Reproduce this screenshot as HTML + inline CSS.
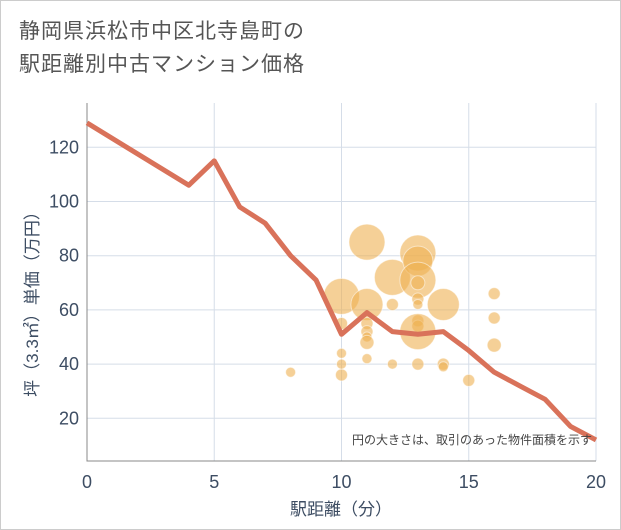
<!DOCTYPE html>
<html><head><meta charset="utf-8"><style>
body{margin:0;background:#fff;font-family:"Liberation Sans","Noto Sans CJK JP",sans-serif;}
#wrap{position:relative;width:619px;height:528px;border:1px solid #ccc;background:#fff;}
.title{position:absolute;left:18px;top:14px;font-size:21px;line-height:33px;color:#555;letter-spacing:1px;}
svg text{font-family:"Liberation Sans","Noto Sans CJK JP",sans-serif;}
</style></head><body>
<div id="wrap">
<div class="title">静岡県浜松市中区北寺島町の<br>駅距離別中古マンション価格</div>
<svg id="c" width="621" height="530" style="position:absolute;left:-1px;top:-1px"></svg>
</div>
<script>
const xTicks=[0,5,10,15,20];
const yTicks=[20,40,60,80,100,120];
const lineX=[0,4,5,6,7,8,9,10,11,12,13,14,15,16,17,18,19,20];
const lineY=[129,106,115,98,92,80,71,51,59,52,51,52,45,37,32,27,17,12];
const bubX=[8,10,10,10,10,10,11,11,11,11,11,11,11,12,12,12,13,13,13,13,13,13,13,13,13,13,14,14,14,15,16,16,16];
const bubY=[37,36,40,44,65,55,85,62,55,52,50,48,42,72,62,40,81,78,71,70,64,62,56,54,52,40,62,40,39,34,66,57,47];
const bubR=[5,6,5,5,18,6,18,16,6,6,5,7,5,18,6,5,18,15,18,7,6,5,6,6,18,6,16,6,5,6,6,6,7];
const svg=document.getElementById('c');const NS='http://www.w3.org/2000/svg';
const L=87,R=596,T=103,B=461;
const xs=v=>L+(v-0)/20*(R-L);
const ys=v=>472.5-v*2.71;
function mk(t,a,p){const e=document.createElementNS(NS,t);for(const k in a)e.setAttribute(k,a[k]);(p||svg).appendChild(e);return e;}
xTicks.forEach(t=>{const g=mk('line',{x1:xs(t),x2:xs(t),y1:T,y2:B,stroke:'#d5dde8','stroke-width':1});


const tx=mk('text',{x:xs(t),y:488,'text-anchor':'middle','font-size':18,fill:'#3d4d63'});tx.textContent=t;

});
yTicks.forEach(t=>{const g=mk('line',{x1:L,x2:R,y1:ys(t),y2:ys(t),stroke:'#d5dde8','stroke-width':1});


const tx=mk('text',{x:79,y:ys(t)+6,'text-anchor':'end','font-size':18,fill:'#3d4d63'});tx.textContent=t;

});
const ax=mk('path',{d:`M${L},${T}V${B}H${R}`,fill:'none',stroke:'#888','stroke-width':1});


bubX.forEach((x,i)=>{const c=mk('circle',{cx:xs(x),cy:ys(bubY[i]),r:bubR[i],fill:'rgba(238,176,82,0.6)',stroke:'rgba(255,255,255,0.5)','stroke-width':1});

});
const p=mk('polyline',{points:lineX.map((x,i)=>xs(x)+','+ys(lineY[i])).join(' '),fill:'none',stroke:'#d9725a','stroke-width':5,'stroke-linejoin':'round'});


const n=mk('text',{x:592,y:444,'text-anchor':'end','font-size':12,fill:'#444'});n.textContent='円の大きさは、取引のあった物件面積を示す';


const xt=mk('text',{x:341,y:515,'text-anchor':'middle','font-size':17,fill:'#3d4d63'});xt.textContent='駅距離（分）';


const yt=mk('text',{x:0,y:0,'text-anchor':'middle','font-size':17,fill:'#3d4d63',transform:'translate(38,300) rotate(-90)'});yt.textContent='坪（3.3㎡）単価（万円）';


</script>
</body></html>
